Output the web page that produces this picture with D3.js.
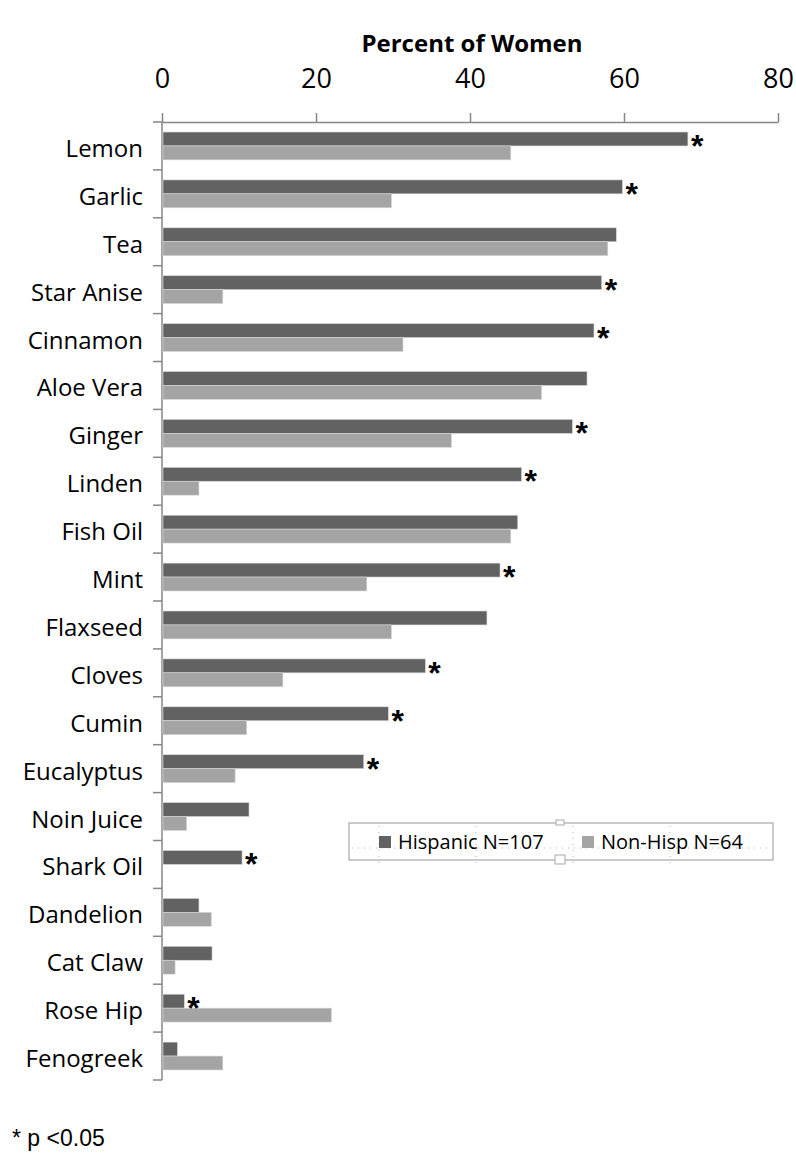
<!DOCTYPE html>
<html>
<head>
<meta charset="utf-8">
<script src="https://cdn.jsdelivr.net/npm/d3@7"></script>
<style>
  body { margin: 0; background: #fff; }
  svg { display: block; }
</style>
</head>
<body>
<div id="chart"></div>
<script>
// Herbs / supplements used, percent of women by group
var categories = ['Lemon', 'Garlic', 'Tea', 'Star Anise', 'Cinnamon', 'Aloe Vera', 'Ginger',
  'Linden', 'Fish Oil', 'Mint', 'Flaxseed', 'Cloves', 'Cumin', 'Eucalyptus', 'Noin Juice',
  'Shark Oil', 'Dandelion', 'Cat Claw', 'Rose Hip', 'Fenogreek'];
var hispanic = [68.3, 59.8, 59.0, 57.1, 56.1, 55.2, 53.3, 46.7, 46.2, 43.9,
  42.2, 34.2, 29.4, 26.2, 11.3, 10.4, 4.8, 6.5, 2.9, 2.0];
var nonHisp = [45.3, 29.8, 57.9, 7.9, 31.3, 49.3, 37.6, 4.8, 45.3, 26.6,
  29.8, 15.7, 11.0, 9.5, 3.2, 0, 6.4, 1.7, 22.0, 7.9];
// 1 = significant difference (p < 0.05), marked with an asterisk
var significant = [1, 1, 0, 1, 1, 0, 1, 1, 0, 1, 0, 1, 1, 1, 0, 1, 0, 0, 1, 0];
var seriesNames = ['Hispanic N=107', 'Non-Hisp N=64'];
var xTicks = [0, 20, 40, 60, 80];

var width = 796, height = 1156;
var colors = ['#626262', '#a4a4a4'];
var axisColor = '#868686';
var labelFont = '"Open Sans", "Noto Sans", sans-serif';

var svg = d3.select('#chart').append('svg')
    .attr('width', width)
    .attr('height', height);

var x = d3.scaleLinear().domain([0, 80]).range([162, 778]);
var y = d3.scaleBand().domain(categories).range([122, 1080]);
var sub = d3.scaleBand().domain([0, 1]).range([0, y.step()]).paddingOuter(0.72);

// Title
svg.append('text')
    .attr('x', 472)
    .attr('y', 52)
    .attr('text-anchor', 'middle')
    .style('font-family', labelFont)
    .style('font-weight', 'bold')
    .style('font-size', '24px')
    .text('Percent of Women');

// Top axis
var xAxis = svg.append('g')
    .attr('transform', 'translate(0,122)')
    .call(d3.axisTop(x).tickValues(xTicks).tickSize(9).tickPadding(25).tickSizeOuter(0));
xAxis.select('.domain').attr('stroke', axisColor).attr('stroke-width', 1.5);
xAxis.selectAll('.tick line').attr('stroke', axisColor).attr('stroke-width', 1.5);
xAxis.selectAll('.tick text')
    .attr('fill', '#000')
    .style('font-family', labelFont)
    .style('font-size', '27px');

// Left category axis, ticks sit between categories
var yAxis = svg.append('g').attr('transform', 'translate(162,0)');
yAxis.append('line')
    .attr('x1', 0).attr('x2', 0)
    .attr('y1', y.range()[0]).attr('y2', y.range()[1])
    .attr('stroke', axisColor).attr('stroke-width', 1.5);
yAxis.selectAll('line.tick')
    .data(d3.range(categories.length + 1))
    .enter().append('line')
    .attr('class', 'tick')
    .attr('x1', -9).attr('x2', 0)
    .attr('y1', function (i) { return y.range()[0] + i * y.step(); })
    .attr('y2', function (i) { return y.range()[0] + i * y.step(); })
    .attr('stroke', axisColor).attr('stroke-width', 1.5);

svg.append('g').selectAll('text')
    .data(categories)
    .enter().append('text')
    .attr('x', 143)
    .attr('y', function (d) { return y(d) + y.step() / 2 + 11; })
    .attr('text-anchor', 'end')
    .style('font-family', labelFont)
    .style('font-size', '24px')
    .text(function (d) { return d; });

// Bars
var rows = categories.map(function (c, i) {
  return { name: c, values: [hispanic[i], nonHisp[i]], sig: significant[i] };
});

var groups = svg.append('g').selectAll('g')
    .data(rows)
    .enter().append('g')
    .attr('transform', function (d) { return 'translate(0,' + y(d.name) + ')'; });

groups.selectAll('rect')
    .data(function (d) { return d.values; })
    .enter().append('rect')
    .attr('x', x(0) + 1)
    .attr('y', function (d, i) { return sub(i); })
    .attr('width', function (d) { return Math.max(0, x(d) - x(0) - 1); })
    .attr('height', sub.bandwidth())
    .attr('fill', function (d, i) { return colors[i]; })
    .attr('stroke', '#d8d8d8')
    .attr('stroke-width', 0.6);

groups.filter(function (d) { return d.sig; })
    .append('text')
    .attr('x', function (d) { return x(d.values[0]) + 3; })
    .attr('y', sub(0) + sub.bandwidth() / 2 + 18)
    .style('font-family', '"Liberation Sans", Arial, sans-serif')
    .style('font-weight', 'bold')
    .style('font-size', '32px')
    .text('*');

// Legend (drawn as it appears, with the selection frame)
var legend = svg.append('g');
legend.append('rect')
    .attr('x', 349).attr('y', 823)
    .attr('width', 424).attr('height', 37)
    .attr('fill', '#fff')
    .attr('stroke', '#a8a8a8')
    .attr('stroke-width', 1.2);
legend.append('line')
    .attr('x1', 352).attr('x2', 771).attr('y1', 848).attr('y2', 848)
    .attr('stroke', '#b0b0b0').attr('stroke-dasharray', '1,5');
[379, 476, 573, 670].forEach(function (vx) {
  legend.append('line')
      .attr('x1', vx).attr('x2', vx).attr('y1', 826).attr('y2', 866)
      .attr('stroke', '#b0b0b0').attr('stroke-dasharray', '1,5');
});
legend.append('rect')
    .attr('x', 555).attr('y', 855).attr('width', 10).attr('height', 9)
    .attr('fill', '#fff').attr('stroke', '#a8a8a8');
legend.append('rect')
    .attr('x', 556).attr('y', 820).attr('width', 8).attr('height', 5)
    .attr('fill', '#fff').attr('stroke', '#a8a8a8');

var legendX = [379, 582];
seriesNames.forEach(function (name, i) {
  legend.append('rect')
      .attr('x', legendX[i]).attr('y', 836)
      .attr('width', 12).attr('height', 12)
      .attr('fill', colors[i]);
  legend.append('text')
      .attr('x', legendX[i] + 19)
      .attr('y', 849)
      .style('font-family', labelFont)
      .style('font-size', '20px')
      .text(name);
});

// Footnote
svg.append('text')
    .attr('x', 12)
    .attr('y', 1146)
    .style('font-family', '"Liberation Sans", Arial, sans-serif')
    .style('font-size', '23px')
    .text('* p <0.05');
</script>
</body>
</html>
